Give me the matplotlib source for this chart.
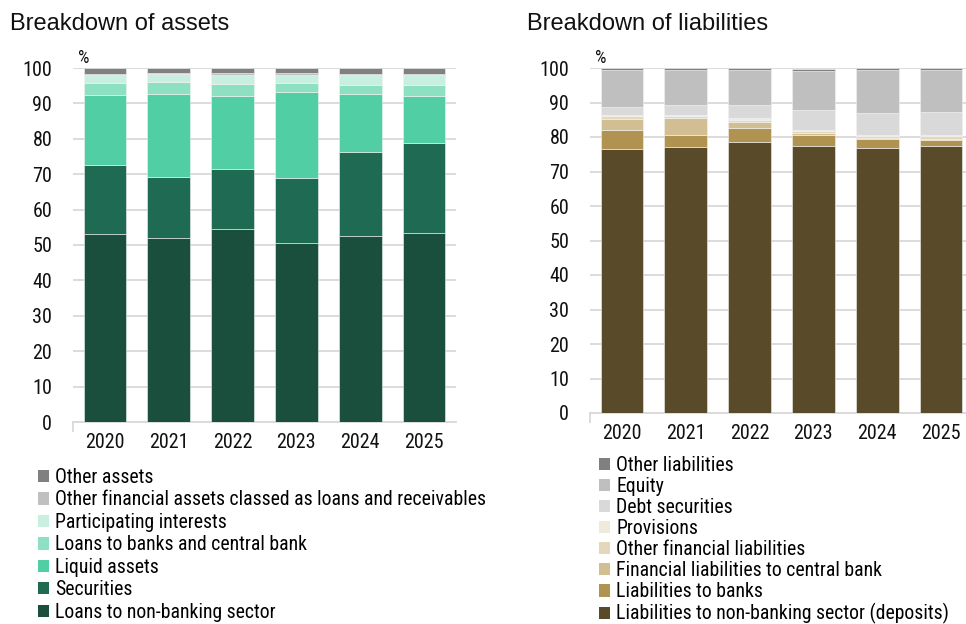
import numpy as np
import matplotlib
matplotlib.use('Agg')
import matplotlib.pyplot as plt
from matplotlib.patches import Patch
from matplotlib import font_manager

years = ['2020', '2021', '2022', '2023', '2024', '2025']

# assets, % of total (bottom to top)
loans_nonbank = [53.0, 52.0, 54.5, 50.5, 52.5, 53.3]
securities = [19.6, 17.3, 17.1, 18.5, 23.9, 25.5]
liquid_assets = [19.8, 23.4, 20.6, 24.1, 16.3, 13.4]
loans_banks = [3.3, 3.4, 3.4, 2.7, 2.6, 3.1]
participating = [2.2, 2.1, 2.3, 2.2, 2.6, 2.6]
other_fin_assets = [0.4, 0.4, 0.6, 0.5, 0.4, 0.5]
other_assets = [1.7, 1.4, 1.5, 1.5, 1.7, 1.6]

# liabilities, % of total (bottom to top)
deposits = [76.6, 77.0, 78.5, 77.3, 76.7, 77.3]
liab_banks = [5.4, 3.5, 4.1, 3.4, 2.8, 1.9]
liab_cb = [3.1, 5.0, 1.7, 0.6, 0.2, 0.3]
other_fin_liab = [0.9, 0.7, 0.7, 0.4, 0.5, 0.7]
provisions = [0.4, 0.3, 0.4, 0.4, 0.4, 0.5]
debt_securities = [2.4, 2.7, 4.0, 5.6, 6.5, 6.5]
equity = [10.7, 10.3, 10.1, 11.3, 12.2, 12.2]
other_liab = [0.5, 0.5, 0.5, 0.6, 0.7, 0.7]

assets = [
    ('Loans to non-banking sector', loans_nonbank, '#1a4f3d'),
    ('Securities', securities, '#1f6a52'),
    ('Liquid assets', liquid_assets, '#52cea5'),
    ('Loans to banks and central bank', loans_banks, '#8ee0c3'),
    ('Participating interests', participating, '#c8efe0'),
    ('Other financial assets classed as loans and receivables', other_fin_assets, '#c0c0c0'),
    ('Other assets', other_assets, '#808080'),
]
liabs = [
    ('Liabilities to non-banking sector (deposits)', deposits, '#594b2a'),
    ('Liabilities to banks', liab_banks, '#b09350'),
    ('Financial liabilities to central bank', liab_cb, '#d1be92'),
    ('Other financial liabilities', other_fin_liab, '#e3d8bc'),
    ('Provisions', provisions, '#efeadc'),
    ('Debt securities', debt_securities, '#d9d9d9'),
    ('Equity', equity, '#bfbfbf'),
    ('Other liabilities', other_liab, '#808080'),
]

# narrow font if there is one, else plain Arial-metric font a bit smaller
have = {f.name for f in font_manager.fontManager.ttflist}
narrow = None
for cand in ['Liberation Sans Narrow', 'Arial Narrow', 'Roboto Condensed']:
    if cand in have:
        narrow = cand
        break
if narrow:
    fam = [narrow, 'DejaVu Sans']
    tick_fs, leg_fs = 14.5, 14.2
else:
    fam = ['Liberation Sans', 'DejaVu Sans']
    tick_fs, leg_fs = 13.5, 12.5

W, H = 966, 624
fig = plt.figure(figsize=(W / 100, H / 100), dpi=100)


def stacked(rect, series, title, title_x, leg_x, leg_y, row_px):
    ax = fig.add_axes(rect)
    x = np.arange(len(years))
    bottom = np.zeros(len(years))
    for name, vals, col in series:
        ax.bar(x, vals, 0.67, bottom=bottom, color=col, edgecolor='#f2f2f2',
               linewidth=0.4, zorder=3)
        bottom += np.array(vals)
    ax.set_xlim(-0.5, len(years) - 0.5)
    ax.set_ylim(0, 100)
    ax.set_yticks(range(0, 101, 10))
    ax.set_xticks(x)
    ax.set_xticklabels(years)
    ax.yaxis.grid(True, color='#d9d9d9', linewidth=1.3, zorder=0)
    for s in ['top', 'right', 'left']:
        ax.spines[s].set_visible(False)
    ax.spines['bottom'].set_color('#d9d9d9')
    ax.spines['bottom'].set_linewidth(1.3)
    ax.tick_params(axis='y', length=0, pad=15)
    ax.tick_params(axis='x', length=0, pad=8)
    ax.set_xticks([-0.5], minor=True)
    ax.tick_params(axis='x', which='minor', length=7, color='#d9d9d9', width=1.3)
    for lab in ax.get_xticklabels() + ax.get_yticklabels():
        lab.set_family(fam)
        lab.set_fontsize(tick_fs)
        lab.set_color('#111111')
    ax.text(0.012, 1.004, '%', transform=ax.transAxes, fontsize=13,
            family=fam, va='bottom', ha='left', color='#111111')
    fig.text(title_x, 1 - 24 / H, title, fontsize=17,
             family=['Liberation Sans', 'DejaVu Sans'],
             va='center', ha='left', color='#111111')
    handles = [Patch(facecolor=c, edgecolor='none', label=n) for n, v, c in series[::-1]]
    fpx = leg_fs * 100 / 72
    spacing = (row_px - 0.92 * fpx) / fpx
    fig.legend(handles=handles, loc='upper left', bbox_to_anchor=(leg_x, leg_y),
               frameon=False, prop={'family': fam, 'size': leg_fs},
               handlelength=0.58, handleheight=0.58, handletextpad=0.3,
               labelspacing=spacing, borderaxespad=0, borderpad=0)
    return ax


stacked([73 / W, 1 - 422 / H, 383 / W, 354 / H], assets, 'Breakdown of assets',
        10 / W, 38 / W, 1 - 468 / H, 21.6)
stacked([590 / W, 1 - 413 / H, 383 / W, 345 / H], liabs, 'Breakdown of liabilities',
        527 / W, 599 / W, 1 - 456 / H, 20.2)

fig.savefig('out.png', dpi=100)
